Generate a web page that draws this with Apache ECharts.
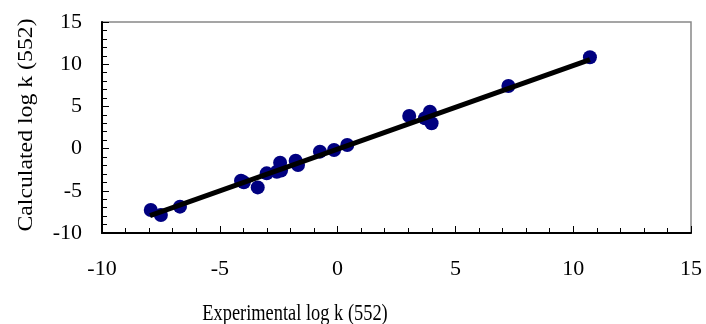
<!doctype html>
<html>
<head>
<meta charset="utf-8">
<title>log k</title>
<script src="https://cdn.jsdelivr.net/npm/echarts@6/dist/echarts.min.js"></script>
<style>
  html, body { margin: 0; padding: 0; background: #fff; }
  #main { width: 706px; height: 324px; }
</style>
</head>
<body>
<div id="main"></div>
<script>
// experimental vs calculated log k (552)
const expLogK = [-7.93, -7.50, -6.69, -4.10, -3.98, -3.39, -3.01, -2.58, -2.44, -2.40, -1.78, -1.68, -0.75, -0.15, 0.41, 3.04, 3.71, 3.92, 3.99, 7.25, 10.71];
const calcLogK = [-7.27, -7.87, -6.88, -3.80, -4.00, -4.60, -2.93, -2.74, -1.67, -2.60, -1.43, -1.94, -0.36, -0.17, 0.43, 3.86, 3.59, 4.37, 3.00, 7.42, 10.82];
// fitted line end points
const fitX = [-7.96, 10.71];
const fitY = [-7.95, 10.55];
const xTicks = [-10, 15, 5];
const yTicks = [-10, 15, 5];

const font = '"Liberation Serif", "Times New Roman", serif';
const chart = echarts.init(document.getElementById('main'));

const axisCommon = {
    axisLine: { show: true, onZero: false, lineStyle: { color: '#000', width: 2 } },
    axisTick: { show: true, inside: true, length: 7, lineStyle: { color: '#000', width: 1 } },
    minorTick: { show: true, splitNumber: 5, length: 5, lineStyle: { color: '#000', width: 1 } },
    splitLine: { show: false },
    axisLabel: { color: '#000', fontFamily: font, fontSize: 22 }
};

chart.setOption({
    animation: false,
    grid: {
        left: 102, right: 15, top: 22, bottom: 91,
        show: true, borderColor: '#888', borderWidth: 1.5, backgroundColor: '#fff'
    },
    xAxis: Object.assign({
        type: 'value', min: xTicks[0], max: xTicks[1], interval: xTicks[2]
    }, axisCommon, { axisLabel: Object.assign({}, axisCommon.axisLabel, { margin: 25 }) }),
    yAxis: Object.assign({
        type: 'value', min: yTicks[0], max: yTicks[1], interval: yTicks[2]
    }, axisCommon, { axisLabel: Object.assign({}, axisCommon.axisLabel, { margin: 20 }) }),
    graphic: [
        {
            type: 'text', x: 295, y: 314, scaleX: 0.8,
            style: { text: 'Experimental log k (552)', font: '23px ' + font, fill: '#000', align: 'center', verticalAlign: 'middle' }
        },
        {
            type: 'text', x: 26, y: 125, rotation: Math.PI / 2, scaleX: 1.08,
            style: { text: 'Calculated log k (552)', font: '22px ' + font, fill: '#000', align: 'center', verticalAlign: 'middle' }
        }
    ],
    series: [
        {
            type: 'scatter',
            data: expLogK.map((v, i) => [v, calcLogK[i]]),
            symbol: 'circle',
            symbolSize: 14,
            itemStyle: { color: '#000080', opacity: 1 },
            z: 2
        },
        {
            type: 'line',
            data: fitX.map((v, i) => [v, fitY[i]]),
            showSymbol: false,
            lineStyle: { color: '#000', width: 5 },
            z: 3
        }
    ]
});
</script>
</body>
</html>
